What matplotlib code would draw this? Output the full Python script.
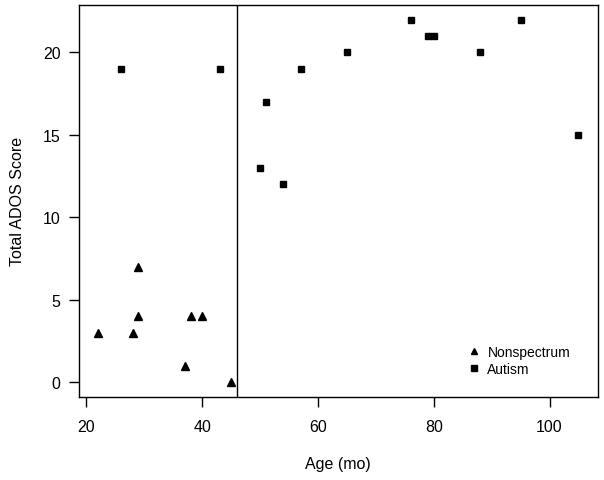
import matplotlib.pyplot as plt
from matplotlib.lines import Line2D

# Nonspectrum children (triangles)
nonspec_age = [22, 28, 29, 29, 37, 38, 40, 45]
nonspec_ados = [3, 3, 7, 4, 1, 4, 4, 0]

# Autism children (squares)
autism_age = [26, 43, 50, 51, 54, 57, 65, 76, 79, 80, 88, 95, 105]
autism_ados = [19, 19, 13, 17, 12, 19, 20, 22, 21, 21, 20, 22, 15]

cutoff_age = 46

plt.rcParams['font.family'] = ['Liberation Sans', 'DejaVu Sans']
FS = 11.5

fig = plt.figure(figsize=(6.04, 4.81), dpi=100)
ax = fig.add_axes([0.1303, 0.1732, 0.8593, 0.8143])

ax.plot(nonspec_age, nonspec_ados, linestyle='none', marker='^',
        markersize=6.2, color='black', label='Nonspectrum')
ax.plot(autism_age, autism_ados, linestyle='none', marker='s',
        markersize=5.0, color='black', label='Autism')

ax.axvline(cutoff_age, color='black', linewidth=1.0)

ax.set_xlim(18.68, 108.32)
ax.set_ylim(-0.88, 22.88)
ax.set_xticks([20, 40, 60, 80, 100])
ax.set_yticks([0, 5, 10, 15, 20])

for s in ax.spines.values():
    s.set_linewidth(1.0)
ax.tick_params(direction='out', length=7, width=1.0, labelsize=FS,
               colors='black')
ax.tick_params(axis='x', pad=9)
ax.tick_params(axis='y', pad=6)

ax.set_xlabel('Age (mo)', fontsize=FS, labelpad=16)
ax.set_ylabel('Total ADOS Score', fontsize=FS, labelpad=13)

handles = [
    Line2D([], [], linestyle='none', marker='^', markersize=5.0, color='black'),
    Line2D([], [], linestyle='none', marker='s', markersize=4.2, color='black'),
]
ax.legend(handles, ['Nonspectrum', 'Autism'], loc='lower right',
          bbox_to_anchor=(0.971, 0.02), frameon=False, fontsize=10,
          handlelength=0.9, handletextpad=0.55, labelspacing=0.25)

fig.savefig('out.png', dpi=100)
